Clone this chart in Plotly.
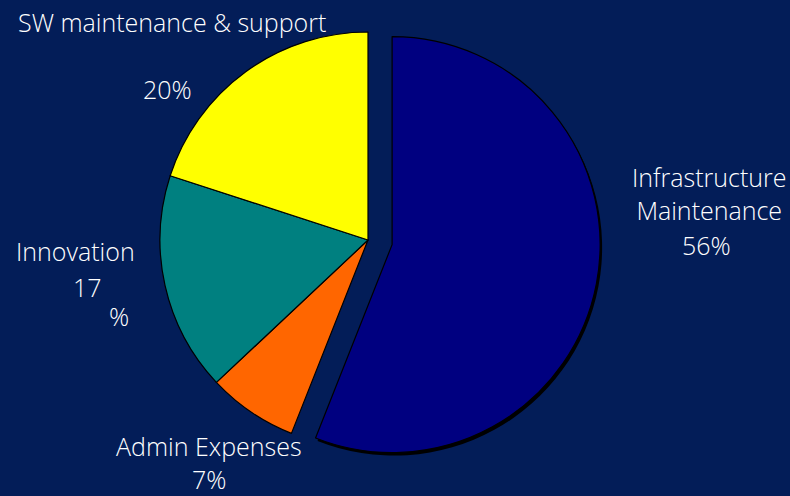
import plotly.graph_objects as go

categories = ["Infrastructure Maintenance", "Admin Expenses", "Innovation", "SW maintenance & support"]
values = [56, 7, 17, 20]
colors = ["#000080", "#FF6600", "#008080", "#FFFF00"]
pulls = [0.118, 0, 0, 0]

BG = "#031D58"
W, H = 790, 496

# label annotations: (text, x px, y px)
labels = [
    ("SW maintenance &amp; support", 172, 22),
    ("20%", 167, 89),
    ("Infrastructure<br>Maintenance", 709, 193),
    ("56%", 706, 245),
    ("Innovation", 75, 251),
    ("17", 87, 287),
    ("%", 119, 316),
    ("Admin Expenses", 209, 446),
    ("7%", 209, 479),
]

cx, cy, r = 368, 240, 208
half = r * (1 + max(pulls))

def dom(dx=0, dy=0):
    return dict(
        x=[(cx + dx - half) / W, (cx + dx + half) / W],
        y=[(H - (cy + dy) - half) / H, (H - (cy + dy) + half) / H],
    )

fig = go.Figure()
# shadow for the pulled slice
fig.add_trace(go.Pie(
    labels=categories, values=values, sort=False, direction="clockwise", rotation=0,
    pull=pulls, domain=dom(2, 3),
    marker=dict(colors=["#000000", "rgba(0,0,0,0)", "rgba(0,0,0,0)", "rgba(0,0,0,0)"],
                line=dict(width=0)),
    textinfo="none", hoverinfo="skip", showlegend=False,
))
fig.add_trace(go.Pie(
    labels=categories, values=values, sort=False, direction="clockwise", rotation=0,
    pull=pulls, domain=dom(),
    marker=dict(colors=colors, line=dict(color="#000000", width=1.2)),
    textinfo="none", hoverinfo="skip", showlegend=False,
))

for t, x, y in labels:
    fig.add_annotation(text=t, x=x / W, y=1 - y / H, xref="paper", yref="paper",
                       showarrow=False, xanchor="center", yanchor="middle",
                       font=dict(family="Open Sans", size=25, color="white", weight=300))

fig.update_layout(width=W, height=H, margin=dict(l=0, r=0, t=0, b=0),
                  paper_bgcolor=BG, plot_bgcolor=BG, showlegend=False)
fig.write_html("out.html")
